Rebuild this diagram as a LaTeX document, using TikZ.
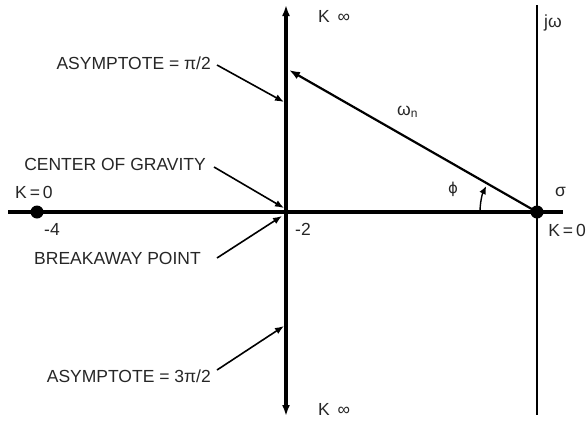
\documentclass[tikz,border=0pt]{standalone}
\usepackage{fontspec}
\setmainfont{Liberation Sans}
\newfontfamily\dvs{DejaVu Sans}
\usetikzlibrary{arrows.meta}
\begin{document}
\begin{tikzpicture}[x=1pt,y=-1pt,
  lbl/.style={inner sep=0pt,text=black!85,font=\fontsize{17.5}{19}\selectfont},
  axis/.style={line width=3.4pt},
  thinaxis/.style={line width=1.6pt},
  leader/.style={line width=1.6pt,-{Latex[length=9pt,width=7pt]}},
  pole/.style={circle,fill=black,inner sep=0pt,minimum size=13pt}]
\useasboundingbox (0,0) rectangle (587,421);
% coordinates
\coordinate (vtop) at (286,5);
\coordinate (vbot) at (286,416);
\coordinate (hl) at (8,212);
\coordinate (hr) at (563,212);
\coordinate (jtop) at (537,5);
\coordinate (jbot) at (537,415);
\coordinate (o2) at (286,212);
\coordinate (wtip) at (289,70);
\coordinate (a1) at (284,102);
\coordinate (a2) at (284,208);
\coordinate (a3) at (282,216);
\coordinate (a4) at (284,326);
% axes
\draw[thinaxis] (jtop) -- (jbot);
\draw[axis] (hl) -- (hr);
\draw[axis,{Latex[length=11pt,width=8pt]}-{Latex[length=11pt,width=8pt]}] (vtop) -- (vbot);
% poles
\node[pole] (p4) at (37,212) {};
\node[pole] (p0) at (537,212) {};
% omega_n line
\draw[line width=2.2pt,-{Latex[length=11pt,width=8pt]}] (p0.center) -- (wtip);
% angle arc
\draw[line width=1.4pt,-{Latex[length=8pt,width=7pt]}] (480,212) arc[start angle=180,end angle=207,radius=57];
% labels
\node[lbl,anchor=east] (t1) at (211,63) {ASYMPTOTE = π/2};
\node[lbl,anchor=east] (t2) at (206,164) {CENTER OF GRAVITY};
\node[lbl,anchor=east] (t3) at (201,258) {BREAKAWAY POINT};
\node[lbl,anchor=east] (t4) at (211,376) {ASYMPTOTE = 3π/2};
\draw[leader] (t1.east) ++(6,2) -- (a1);
\draw[leader] (t2.east) ++(8,3) -- (a2);
\draw[leader] (t3.east) ++(16,0) -- (a3);
\draw[leader] (t4.east) ++(6,-6) -- (a4);
\node[lbl,anchor=west] (k0l) at (15,192) {K\,=\,0};
\node[lbl,anchor=west] (m4) at (44,229) {-4};
\node[lbl,anchor=west] (m2) at (295,229) {-2};
\node[lbl,anchor=west] (kinft) at (318,16) {K \,∞};
\node[lbl,anchor=west] (kinfb) at (318,409) {K \,∞};
\node[lbl,anchor=west] (jw) at (544,23) {jω};
\node[lbl,anchor=west] (wn) at (397,112) {ω\raisebox{-0.25ex}{\fontsize{12}{13}\selectfont n}};
\node[lbl,anchor=west] (phi) at (448,189) {{\dvs\fontsize{15}{16}\selectfont ϕ}};
\node[lbl,anchor=west] (sig) at (555,192) {σ};
\node[lbl,anchor=east] (k0r) at (586,230) {K\,=\,0};
\end{tikzpicture}
\end{document}
